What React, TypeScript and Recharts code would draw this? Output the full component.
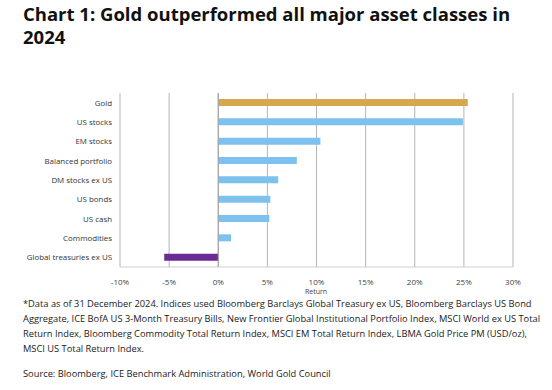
import { Bar, BarChart, CartesianGrid, Cell, ReferenceLine, XAxis, YAxis } from "recharts";

const categories = [
  "Gold",
  "US stocks",
  "EM stocks",
  "Balanced portfolio",
  "DM stocks ex US",
  "US bonds",
  "US cash",
  "Commodities",
  "Global treasuries ex US",
];
const returns = [25.4, 24.9, 10.4, 8.0, 6.1, 5.3, 5.2, 1.3, -5.5];
const barColors = ["#D6A84E", "#7DC1EE", "#7DC1EE", "#7DC1EE", "#7DC1EE", "#7DC1EE", "#7DC1EE", "#7DC1EE", "#6B2B94"];
const xTicks = [-10, -5, 0, 5, 10, 15, 20, 25, 30];

const data = categories.map((name, i) => ({ name, value: returns[i] }));

const font = "'Open Sans', 'Noto Sans', sans-serif";

function CategoryTick(props: any) {
  const { x, y, payload } = props;
  return (
    <text x={x} y={y} dy={3} textAnchor="end" fontSize={7.9} fill="#333" fontFamily={font}>
      {payload.value}
    </text>
  );
}

export default function App() {
  return (
    <div style={{ position: "absolute", left: 0, top: 0, width: 552, height: 390, background: "#fff", fontFamily: font, color: "#111" }}>
      <div style={{ position: "absolute", left: 23, top: 2, fontSize: 18.5, fontWeight: 700, lineHeight: "23px", width: 520 }}>
        Chart 1: Gold outperformed all major asset classes in<br />2024
      </div>
      <div style={{ position: "absolute", left: 0, top: 0 }}>
        <BarChart width={552} height={300} data={data} layout="vertical" margin={{ top: 93, right: 39, bottom: 3, left: 10 }}>
          <CartesianGrid horizontal={false} stroke="#b5b5b5" strokeWidth={1} />
          <XAxis
            type="number"
            domain={[-10, 30]}
            ticks={xTicks}
            tickFormatter={(v) => `${v}%`}
            tick={{ fontSize: 8, fill: "#444", fontFamily: font }}
            tickLine={false}
            axisLine={{ stroke: "#d0d0d0" }}
            height={30}
            tickMargin={6}
          />
          <YAxis
            type="category"
            dataKey="name"
            width={110}
            tick={<CategoryTick />}
            tickLine={false}
            axisLine={false}
            interval={0}
          />
          <ReferenceLine x={0} stroke="#a0a0a0" />
          <Bar dataKey="value" barSize={7} isAnimationActive={false}>
            {data.map((d, i) => (
              <Cell key={d.name} fill={barColors[i]} />
            ))}
          </Bar>
        </BarChart>
      </div>
      <div style={{ position: "absolute", left: 296, top: 288, width: 40, textAlign: "center", fontSize: 7, lineHeight: "8px", color: "#444" }}>
        Return
      </div>
      <div style={{ position: "absolute", left: 23, top: 296, width: 520, fontSize: 9.3, lineHeight: "15px", color: "#1a1a1a" }}>
        *Data as of 31 December 2024. Indices used Bloomberg Barclays Global Treasury ex US, Bloomberg Barclays US Bond Aggregate, ICE BofA US 3-Month Treasury Bills, New Frontier Global Institutional Portfolio Index, MSCI World ex US Total Return Index, Bloomberg Commodity Total Return Index, MSCI EM Total Return Index, LBMA Gold Price PM (USD/oz), MSCI US Total Return Index.
      </div>
      <div style={{ position: "absolute", left: 23, top: 366, fontSize: 9.3, lineHeight: "15px", color: "#1a1a1a" }}>
        Source: Bloomberg, ICE Benchmark Administration, World Gold Council
      </div>
    </div>
  );
}
